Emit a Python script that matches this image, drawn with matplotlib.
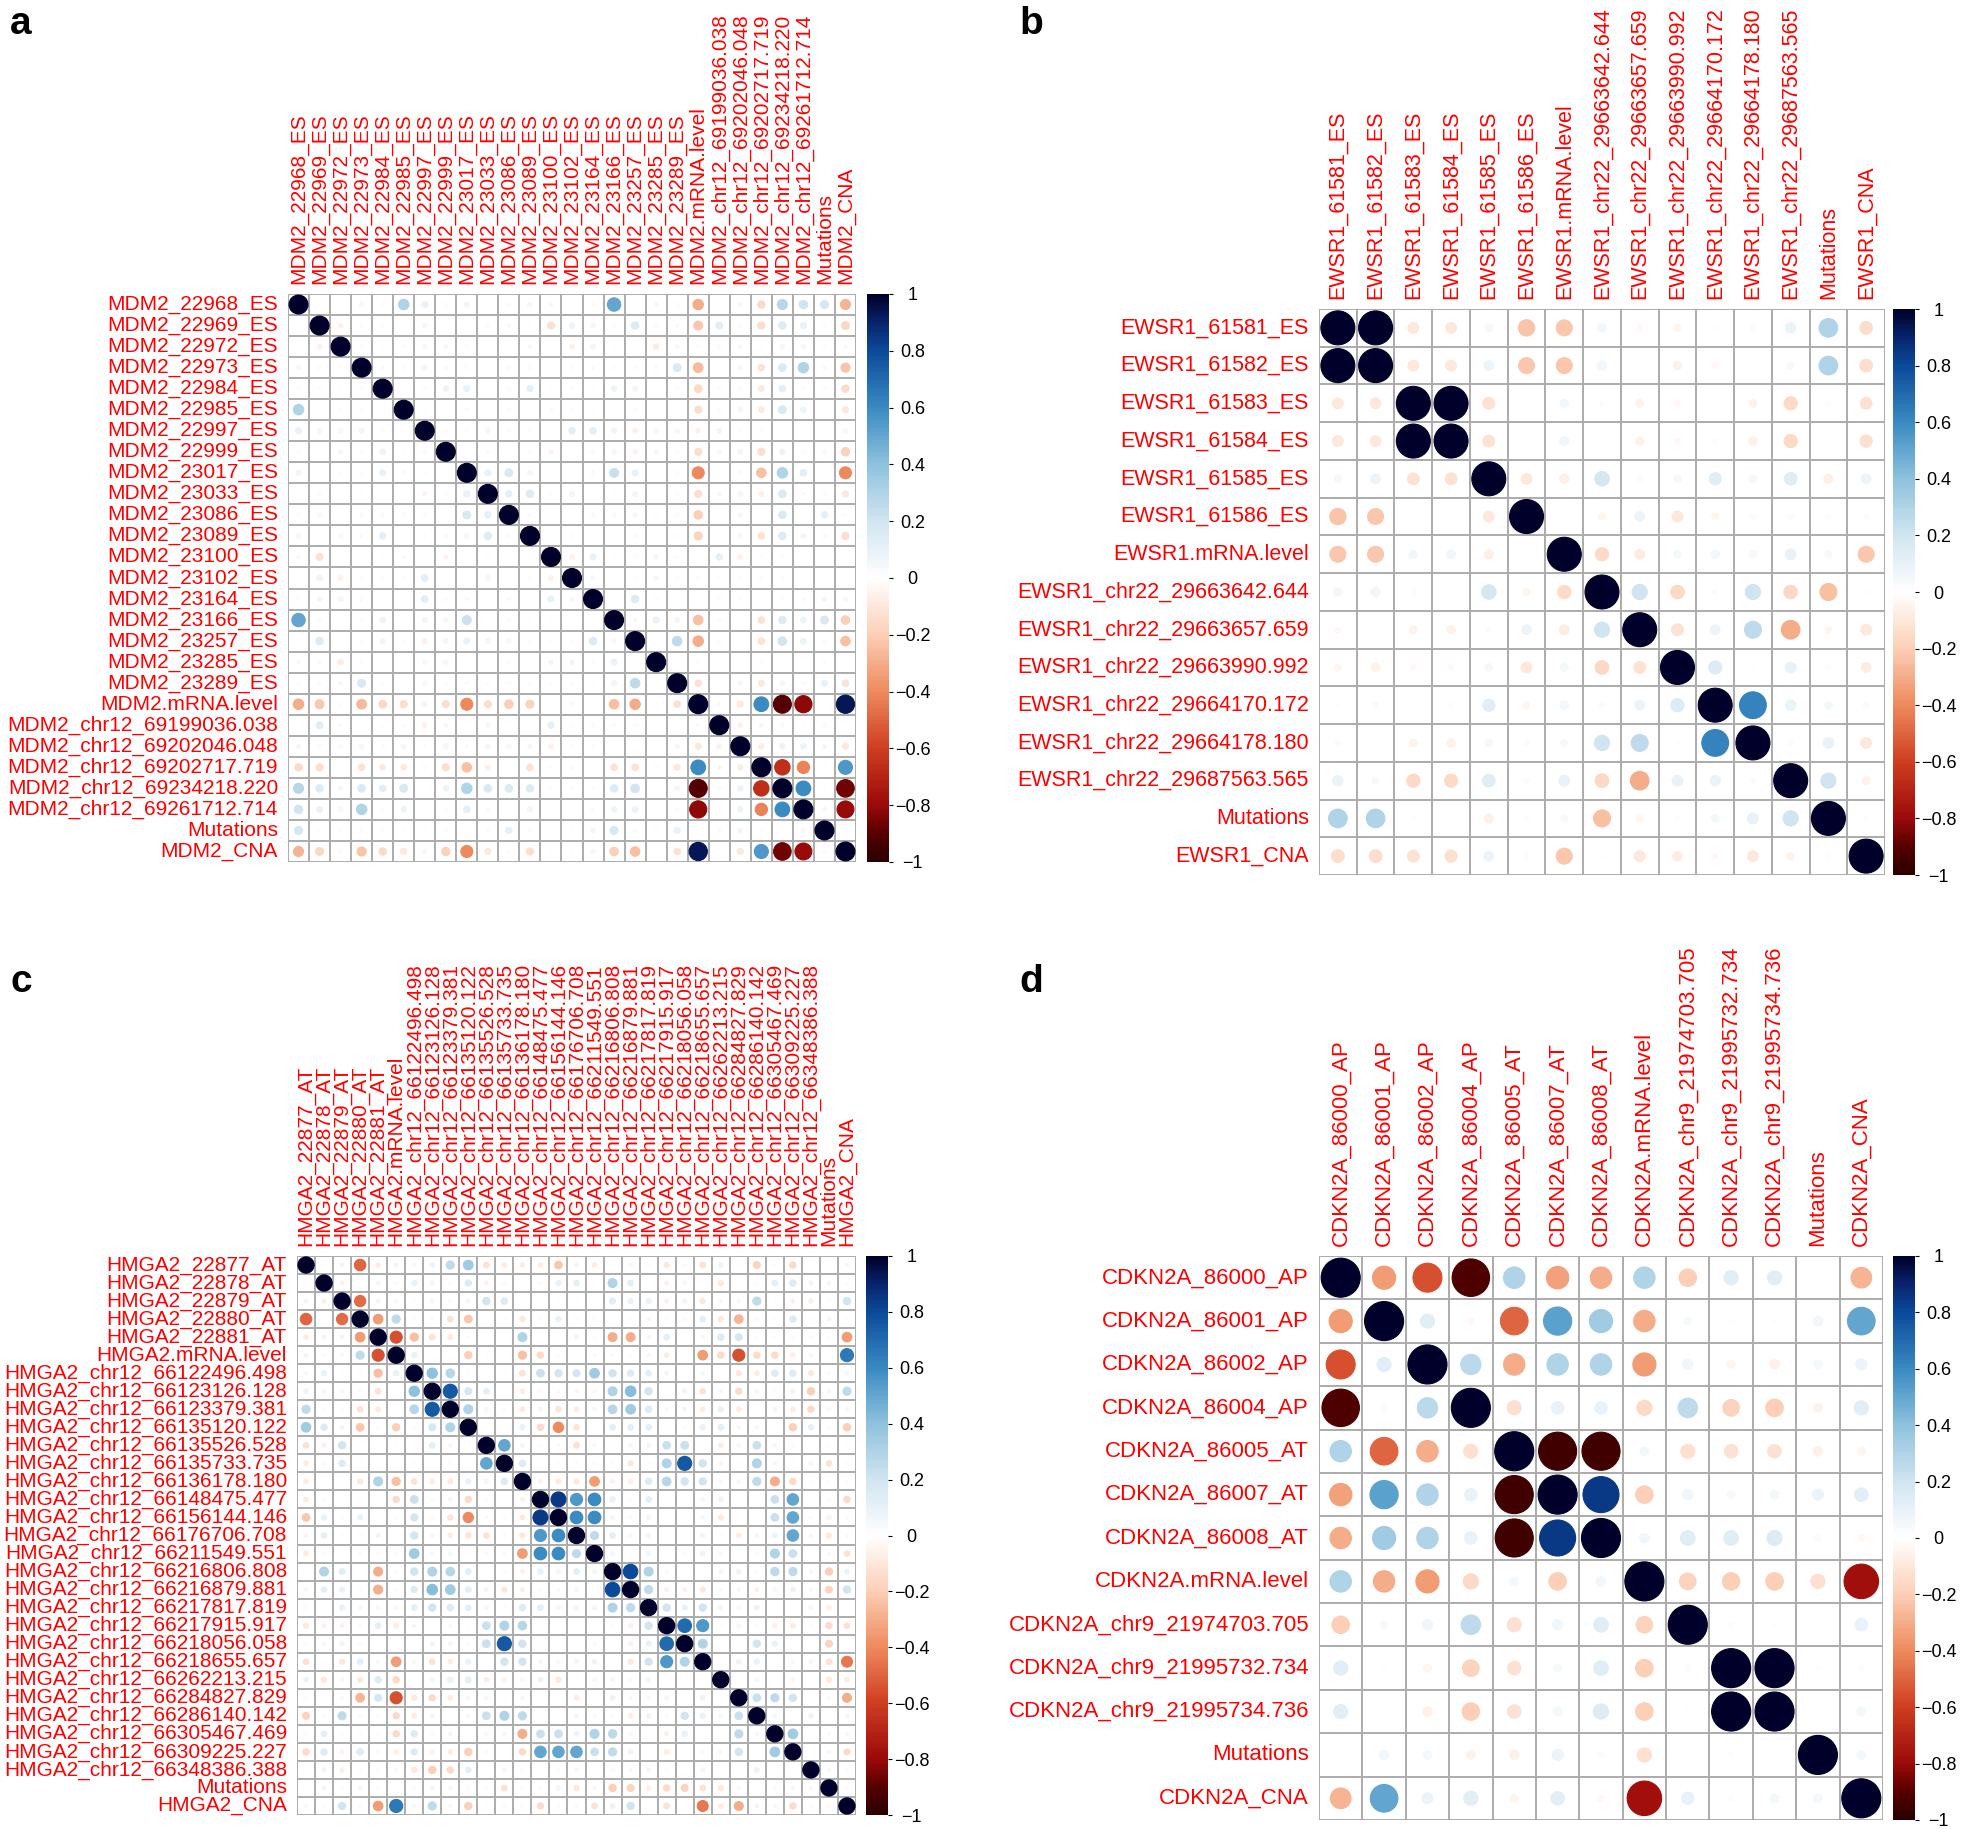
import numpy as np
import matplotlib
import matplotlib.pyplot as plt
from matplotlib.colors import LinearSegmentedColormap, Normalize
from matplotlib.patches import Circle
from matplotlib.cm import ScalarMappable

plt.rcParams['font.family'] = ['Liberation Sans', 'DejaVu Sans']

# ---------------------------------------------
# data: variable names and upper triangles of the correlation matrices
# ---------------------------------------------
mdm2_labels = ['MDM2_22968_ES', 'MDM2_22969_ES', 'MDM2_22972_ES', 'MDM2_22973_ES',
               'MDM2_22984_ES', 'MDM2_22985_ES', 'MDM2_22997_ES', 'MDM2_22999_ES',
               'MDM2_23017_ES', 'MDM2_23033_ES', 'MDM2_23086_ES', 'MDM2_23089_ES',
               'MDM2_23100_ES', 'MDM2_23102_ES', 'MDM2_23164_ES', 'MDM2_23166_ES',
               'MDM2_23257_ES', 'MDM2_23285_ES', 'MDM2_23289_ES', 'MDM2.mRNA.level',
               'MDM2_chr12_69199036.038', 'MDM2_chr12_69202046.048',
               'MDM2_chr12_69202717.719', 'MDM2_chr12_69234218.220',
               'MDM2_chr12_69261712.714', 'Mutations', 'MDM2_CNA']

mdm2_upper = [
    [0.01, 0.0, 0.05, -0.02, 0.3, 0.1, -0.02, 0.07, -0.01, 0.03, 0.06, 0.04, 0.0, -0.02, 0.5, 0.01, 0.04, -0.02, -0.3, 0.0, 0.05, -0.15, 0.28, 0.2, 0.18, -0.28],
    [-0.06, 0.03, 0.02, 0.0, 0.06, 0.0, 0.0, 0.03, 0.04, 0.01, -0.13, 0.08, -0.05, -0.02, 0.15, -0.03, -0.03, -0.22, 0.13, 0.03, -0.14, 0.15, 0.1, 0.02, -0.17],
    [0.02, -0.01, -0.02, 0.05, -0.04, 0.02, 0.0, 0.01, -0.04, 0.0, -0.06, 0.07, -0.01, 0.0, -0.08, 0.04, -0.02, -0.03, 0.04, 0.01, 0.05, 0.05, -0.02, -0.03],
    [-0.02, -0.02, 0.07, -0.03, -0.02, 0.01, -0.03, 0.03, 0.0, -0.02, -0.03, 0.02, -0.02, -0.03, 0.17, -0.26, 0.0, 0.06, -0.12, 0.16, 0.3, -0.03, -0.23],
    [0.0, 0.03, 0.08, 0.1, 0.0, 0.03, 0.11, -0.01, -0.02, -0.01, 0.08, 0.07, 0.0, -0.02, -0.16, -0.02, -0.03, -0.09, 0.12, 0.03, -0.02, -0.15],
    [0.01, -0.01, -0.03, 0.0, 0.03, 0.0, -0.03, -0.02, 0.01, 0.0, -0.02, 0.0, 0.0, -0.14, -0.02, 0.06, -0.09, 0.17, 0.08, -0.01, -0.1],
    [-0.03, -0.02, -0.05, 0.03, 0.02, 0.0, 0.12, 0.12, 0.07, -0.06, 0.05, -0.04, -0.06, -0.06, 0.02, 0.03, 0.0, 0.01, 0.01, -0.04],
    [0.0, -0.02, 0.0, -0.03, -0.05, 0.0, -0.03, 0.05, -0.05, 0.05, -0.02, -0.14, -0.04, 0.07, -0.14, 0.08, 0.02, -0.03, -0.19],
    [0.1, 0.17, 0.06, 0.01, -0.01, -0.03, 0.22, 0.1, 0.01, 0.03, -0.4, 0.01, -0.03, -0.25, 0.3, 0.12, 0.01, -0.4],
    [0.11, 0.15, 0.02, 0.07, 0.0, 0.01, 0.07, -0.01, -0.02, -0.14, -0.04, 0.06, -0.07, 0.16, -0.03, -0.02, -0.1],
    [0.03, 0.0, 0.0, -0.03, 0.03, 0.05, -0.02, 0.03, -0.2, 0.0, 0.05, 0.0, 0.16, 0.01, 0.11, -0.02],
    [0.01, 0.02, -0.01, 0.01, 0.03, 0.0, -0.02, -0.18, 0.0, 0.05, -0.12, 0.15, 0.07, -0.03, -0.14],
    [-0.06, 0.1, 0.01, 0.02, -0.05, -0.02, 0.0, 0.11, -0.06, 0.02, 0.02, 0.0, 0.0, 0.01],
    [0.05, 0.0, 0.02, -0.05, -0.02, -0.03, 0.02, -0.02, -0.03, -0.03, 0.0, 0.01, 0.01],
    [0.0, 0.15, -0.02, -0.01, 0.0, 0.03, -0.02, 0.01, -0.02, -0.03, -0.05, -0.04],
    [0.04, 0.1, 0.07, -0.25, 0.03, 0.0, -0.12, 0.15, 0.08, 0.17, -0.2],
    [0.0, 0.25, -0.3, 0.03, -0.01, -0.12, 0.2, 0.09, -0.03, -0.25],
    [0.0, -0.02, 0.0, 0.0, -0.02, 0.0, -0.01, 0.02, -0.01],
    [-0.12, 0.0, 0.05, -0.1, 0.06, 0.03, 0.1, -0.12],
    [-0.03, -0.1, 0.6, -0.9, -0.82, 0.0, 0.93],
    [-0.06, -0.04, 0.03, -0.01, -0.03, 0.0],
    [-0.08, 0.08, 0.08, -0.05, -0.1],
    [-0.66, -0.42, 0.02, 0.55],
    [0.6, 0.0, -0.86],
    [-0.04, -0.8],
    [0.03],
]

ewsr1_labels = ['EWSR1_61581_ES', 'EWSR1_61582_ES', 'EWSR1_61583_ES', 'EWSR1_61584_ES',
                'EWSR1_61585_ES', 'EWSR1_61586_ES', 'EWSR1.mRNA.level',
                'EWSR1_chr22_29663642.644', 'EWSR1_chr22_29663657.659',
                'EWSR1_chr22_29663990.992', 'EWSR1_chr22_29664170.172',
                'EWSR1_chr22_29664178.180', 'EWSR1_chr22_29687563.565',
                'Mutations', 'EWSR1_CNA']

ewsr1_upper = [
    [1.0, -0.1, -0.1, 0.05, -0.23, -0.22, 0.06, -0.03, -0.04, 0.01, 0.03, 0.09, 0.3, -0.14],
    [-0.1, -0.1, 0.08, -0.22, -0.22, 0.07, 0.0, -0.06, -0.03, 0.0, 0.04, 0.3, -0.14],
    [1.0, -0.12, 0.0, 0.06, 0.02, -0.05, -0.03, 0.0, -0.05, -0.15, 0.01, -0.12],
    [-0.12, 0.0, 0.07, 0.0, -0.06, -0.03, 0.02, -0.06, -0.15, 0.0, -0.13],
    [-0.1, -0.07, 0.18, 0.03, 0.05, 0.13, 0.05, 0.14, -0.07, 0.08],
    [0.0, -0.04, 0.08, -0.1, -0.04, 0.03, 0.03, 0.02, -0.02],
    [-0.15, -0.08, 0.05, 0.06, 0.04, 0.1, 0.04, -0.22],
    [0.2, -0.16, 0.03, 0.2, -0.16, -0.25, 0.01],
    [-0.12, 0.08, 0.25, -0.3, -0.04, -0.1],
    [0.15, -0.01, 0.1, 0.02, -0.08],
    [0.62, 0.09, 0.05, -0.03],
    [-0.02, 0.1, -0.1],
    [0.2, -0.05],
    [0.02],
]

hmga2_labels = ['HMGA2_22877_AT', 'HMGA2_22878_AT', 'HMGA2_22879_AT', 'HMGA2_22880_AT',
                'HMGA2_22881_AT', 'HMGA2.mRNA.level',
                'HMGA2_chr12_66122496.498', 'HMGA2_chr12_66123126.128',
                'HMGA2_chr12_66123379.381', 'HMGA2_chr12_66135120.122',
                'HMGA2_chr12_66135526.528', 'HMGA2_chr12_66135733.735',
                'HMGA2_chr12_66136178.180', 'HMGA2_chr12_66148475.477',
                'HMGA2_chr12_66156144.146', 'HMGA2_chr12_66176706.708',
                'HMGA2_chr12_66211549.551', 'HMGA2_chr12_66216806.808',
                'HMGA2_chr12_66216879.881', 'HMGA2_chr12_66217817.819',
                'HMGA2_chr12_66217915.917', 'HMGA2_chr12_66218056.058',
                'HMGA2_chr12_66218655.657', 'HMGA2_chr12_66262213.215',
                'HMGA2_chr12_66284827.829', 'HMGA2_chr12_66286140.142',
                'HMGA2_chr12_66305467.469', 'HMGA2_chr12_66309225.227',
                'HMGA2_chr12_66348386.388', 'Mutations', 'HMGA2_CNA']

hmga2_upper = [
    [0.0, -0.05, -0.5, -0.08, -0.05, 0.05, 0.08, 0.25, 0.35, -0.12, -0.08, -0.08, -0.08, -0.22, -0.05, -0.08, 0.0, 0.05, 0.03, -0.1, -0.03, -0.12, 0.08, 0.02, -0.18, 0.02, -0.15, 0.0, 0.0, 0.05],
    [-0.06, 0.0, -0.05, 0.03, 0.1, 0.06, 0.03, 0.15, -0.06, -0.03, 0.01, 0.03, 0.1, 0.11, 0.02, 0.3, 0.12, 0.01, -0.06, -0.04, 0.0, -0.1, 0.0, -0.02, 0.12, 0.15, 0.07, -0.05, 0.03],
    [-0.48, -0.05, 0.04, 0.02, 0.05, 0.03, -0.05, 0.2, 0.15, 0.0, 0.01, 0.02, 0.02, 0.0, 0.13, 0.1, 0.1, -0.06, 0.07, -0.1, -0.04, 0.04, 0.25, 0.02, -0.06, -0.07, 0.02, 0.2],
    [-0.35, 0.25, 0.03, -0.03, -0.12, -0.22, 0.0, -0.02, -0.1, 0.02, 0.1, 0.03, 0.03, 0.0, -0.02, -0.04, 0.03, -0.03, 0.12, -0.1, -0.28, -0.03, -0.02, 0.15, 0.02, -0.05, -0.02],
    [-0.55, -0.25, -0.12, -0.09, 0.02, -0.01, -0.01, 0.3, 0.0, 0.0, -0.06, -0.03, -0.3, -0.3, -0.04, 0.12, 0.0, 0.04, 0.15, 0.18, 0.02, -0.02, -0.03, -0.03, 0.02, -0.35],
    [0.1, 0.01, 0.0, -0.2, -0.01, -0.01, -0.25, -0.15, -0.02, 0.01, -0.03, 0.03, 0.03, -0.04, -0.08, 0.0, -0.35, -0.15, -0.55, -0.15, -0.15, -0.07, -0.04, 0.0, 0.65],
    [0.4, 0.28, 0.02, 0.0, 0.02, -0.12, 0.22, 0.19, 0.19, 0.35, 0.2, 0.15, 0.12, -0.05, 0.0, 0.05, 0.0, -0.1, -0.08, 0.15, 0.15, -0.1, -0.03, 0.05],
    [0.75, 0.18, 0.12, -0.01, -0.08, -0.03, -0.03, -0.04, 0.04, 0.3, 0.42, 0.2, 0.0, -0.06, -0.12, 0.05, -0.15, -0.05, 0.03, -0.06, -0.2, -0.05, 0.25],
    [0.3, 0.05, 0.03, -0.09, -0.05, -0.11, -0.08, 0.05, 0.28, 0.35, 0.15, -0.04, -0.05, -0.08, 0.1, -0.08, 0.0, -0.05, -0.08, -0.15, 0.04, 0.04],
    [0.0, 0.01, 0.1, -0.15, -0.4, -0.11, 0.0, 0.12, 0.12, 0.12, 0.01, -0.03, 0.1, 0.12, 0.05, -0.04, 0.0, -0.2, 0.11, -0.02, -0.2],
    [0.5, 0.06, -0.02, -0.03, -0.12, 0.04, 0.0, -0.05, 0.06, 0.22, 0.22, 0.0, -0.08, 0.05, 0.22, 0.05, -0.02, 0.0, 0.02, -0.01],
    [0.15, 0.0, -0.02, -0.03, -0.03, -0.02, -0.1, 0.03, 0.3, 0.75, 0.2, -0.05, 0.02, 0.3, 0.05, 0.02, 0.06, -0.12, 0.03],
    [-0.06, -0.09, -0.1, -0.35, -0.06, -0.07, 0.15, 0.28, 0.2, 0.2, 0.04, 0.05, 0.25, -0.3, -0.15, 0.02, -0.02, -0.02],
    [0.85, 0.55, 0.6, 0.1, 0.03, 0.12, 0.0, 0.0, 0.05, 0.08, 0.0, 0.0, 0.22, 0.5, 0.0, -0.02, -0.15],
    [0.6, 0.6, 0.06, -0.03, 0.07, 0.0, 0.01, 0.05, -0.1, 0.0, 0.0, 0.22, 0.5, -0.02, 0.07, -0.03],
    [0.25, 0.12, 0.05, 0.07, 0.0, 0.01, 0.07, -0.02, -0.08, -0.05, 0.08, 0.5, -0.04, -0.1, -0.03],
    [0.06, 0.0, 0.07, 0.0, -0.03, 0.08, 0.04, 0.0, -0.03, 0.3, 0.22, 0.0, -0.04, -0.12],
    [0.8, 0.3, -0.03, 0.0, 0.0, 0.06, 0.08, -0.02, 0.26, 0.25, 0.04, -0.2, 0.08],
    [0.25, -0.06, -0.06, -0.1, 0.04, 0.04, -0.07, 0.05, 0.08, 0.04, -0.18, 0.2],
    [0.2, 0.1, 0.2, 0.07, 0.04, 0.08, 0.0, 0.0, 0.06, -0.07, 0.01],
    [0.7, 0.55, 0.02, 0.06, 0.03, -0.07, -0.08, 0.03, -0.15, -0.12],
    [0.3, 0.0, 0.0, 0.2, 0.1, 0.0, 0.0, -0.18, 0.0],
    [0.0, 0.08, 0.1, 0.0, 0.04, 0.06, -0.12, -0.45],
    [0.0, 0.05, 0.0, -0.04, 0.0, -0.1, -0.08],
    [0.22, 0.25, 0.2, 0.0, 0.04, -0.3],
    [0.05, 0.0, 0.08, -0.01, -0.05],
    [0.35, 0.0, -0.03, -0.04],
    [0.0, -0.04, -0.15],
    [-0.04, -0.02],
    [-0.02],
]

cdkn2a_labels = ['CDKN2A_86000_AP', 'CDKN2A_86001_AP', 'CDKN2A_86002_AP', 'CDKN2A_86004_AP',
                 'CDKN2A_86005_AT', 'CDKN2A_86007_AT', 'CDKN2A_86008_AT',
                 'CDKN2A.mRNA.level', 'CDKN2A_chr9_21974703.705',
                 'CDKN2A_chr9_21995732.734', 'CDKN2A_chr9_21995734.736',
                 'Mutations', 'CDKN2A_CNA']

cdkn2a_upper = [
    [-0.35, -0.55, -0.92, 0.3, -0.33, -0.3, 0.3, -0.2, 0.13, 0.13, 0.0, -0.28],
    [0.13, -0.03, -0.5, 0.52, 0.35, -0.3, 0.04, -0.01, 0.01, 0.06, 0.5],
    [0.27, -0.3, 0.3, 0.3, -0.35, 0.07, -0.04, -0.06, 0.05, 0.08],
    [-0.13, 0.1, 0.1, -0.15, 0.25, -0.18, -0.2, -0.05, 0.13],
    [-0.95, -0.95, 0.05, -0.13, -0.12, -0.12, -0.06, -0.04],
    [0.85, -0.2, 0.07, 0.04, 0.05, 0.08, 0.12],
    [0.06, 0.14, 0.14, 0.15, 0.03, -0.03],
    [-0.18, -0.2, -0.2, -0.13, -0.78],
    [0.02, 0.01, 0.0, 0.1],
    [1.0, 0.01, 0.02],
    [0.0, 0.05],
    [0.05],
]

# ---------------------------------------------
# helpers
# ---------------------------------------------
W, H = 1961, 1829

cmap = LinearSegmentedColormap.from_list('corr', [
    (0.00, '#2a0000'), (0.05, '#580000'), (0.10, '#9c0a0a'), (0.20, '#cf3e20'),
    (0.30, '#ee8a5e'), (0.40, '#fccfb6'), (0.50, '#ffffff'), (0.60, '#d1e5f0'),
    (0.70, '#8fc2de'), (0.80, '#3a8bc2'), (0.90, '#0b4b9b'), (0.95, '#08256e'),
    (1.00, '#00002a')])
norm = Normalize(-1, 1)


def full_matrix(upper):
    n = len(upper) + 1
    m = np.eye(n)
    for i, row in enumerate(upper):
        for k, v in enumerate(row):
            j = i + 1 + k
            m[i, j] = v
            m[j, i] = v
    return m


def px_axes(fig, left, top, w, h):
    return fig.add_axes([left / W, 1 - (top + h) / H, w / W, h / H])


def corr_panel(fig, labels, upper, left, top, size, fs, cb_left):
    m = full_matrix(upper)
    n = len(labels)
    cell = size / n
    ax = px_axes(fig, left, top, size, size)
    ax.set_xlim(0, n)
    ax.set_ylim(n, 0)
    ax.axis('off')

    for i in range(n):
        for j in range(n):
            v = m[i, j]
            r = 0.45 * np.sqrt(abs(v))
            if r > 0.005:
                c = cmap(norm(v))
                ax.add_patch(Circle((j + 0.5, i + 0.5), r, facecolor=c,
                                    edgecolor=c, lw=0.8, zorder=2))
    for k in range(n + 1):
        ax.plot([0, n], [k, k], color='#ababab', lw=1.4, zorder=1,
                solid_capstyle='butt')
        ax.plot([k, k], [0, n], color='#ababab', lw=1.4, zorder=1,
                solid_capstyle='butt')

    gap = 10 / cell
    for i, lab in enumerate(labels):
        ax.text(-gap, i + 0.5, lab, ha='right', va='center', color='red',
                fontsize=fs)
        ax.text(i + 0.5, -gap, lab, ha='center', va='bottom', color='red',
                fontsize=fs, rotation=90)

    # colour legend
    cax = px_axes(fig, cb_left, top, 22, size)
    cb = fig.colorbar(ScalarMappable(norm=norm, cmap=cmap), cax=cax)
    ticks = np.round(np.arange(-1, 1.01, 0.2), 1) + 0.0
    cb.set_ticks(ticks)
    cb.set_ticklabels([f'{t:g}'.replace('-', '\u2212') if abs(t) > 1e-9 else '0'
                       for t in ticks])
    cb.outline.set_visible(False)
    cax.tick_params(length=3, width=0.8, pad=14, labelsize=13)
    for t in cax.get_yticklabels():
        t.set_ha('center')
    return ax


# ---------------------------------------------
# figure
# ---------------------------------------------
fig = plt.figure(figsize=(W / 100, H / 100), dpi=100)

corr_panel(fig, mdm2_labels, mdm2_upper, 288, 294, 568, 15, 867)
corr_panel(fig, ewsr1_labels, ewsr1_upper, 1319, 309, 566, 15.5, 1893)
corr_panel(fig, hmga2_labels, hmga2_upper, 297, 1256, 559, 15, 866)
corr_panel(fig, cdkn2a_labels, cdkn2a_upper, 1319, 1256, 564, 16, 1893)

for letter, x, y in [('a', 10, 34), ('b', 1019, 34), ('c', 10, 992), ('d', 1019, 992)]:
    fig.text(x / W, 1 - y / H, letter, fontsize=28, fontweight='bold',
             ha='left', va='baseline')

fig.savefig('out.png', dpi=100)
